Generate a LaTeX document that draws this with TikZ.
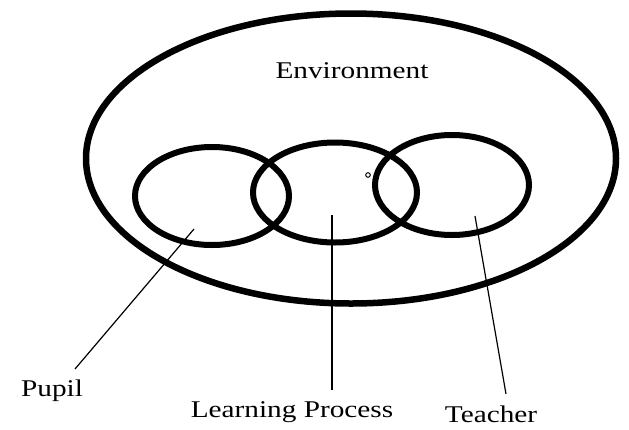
\documentclass[tikz,border=0pt]{standalone}
\usepackage{fontspec}
\usepackage{graphicx}
\setmainfont{Liberation Serif}
\tikzset{
  bigring/.style={line width=6.5pt},
  ring/.style={line width=6pt},
  leader/.style={line width=1.2pt},
  lbl/.style={inner sep=0pt, anchor=base, font=\fontsize{24}{28}\selectfont},
}
\newcommand{\wide}[1]{\scalebox{1.22}[1]{#1}}
\begin{document}
\begin{tikzpicture}[x=1pt,y=-1pt]
\useasboundingbox[fill=white] (0,0) rectangle (629,429);
% environment
\draw[bigring] (351,158.5) ellipse [x radius=265, y radius=145];
\node[lbl] (env) at (352,78) {\wide{Environment}};
% inner rings
\draw[ring] (212,196) ellipse [x radius=77, y radius=49];
\draw[ring] (335,192.5) ellipse [x radius=82, y radius=50];
\draw[ring] (452,185) ellipse [x radius=77, y radius=50];
\draw[line width=1pt] (368,175) circle [radius=2.3];
% leader end points
\coordinate (pA) at (194,229);
\coordinate (pB) at (75,369);
\coordinate (lA) at (332,215);
\coordinate (lB) at (332,390);
\coordinate (tA) at (475,216);
\coordinate (tB) at (506,394);
\draw[leader] (pA) -- (pB);
\draw[leader] (lA) -- (lB);
\draw[leader] (tA) -- (tB);
% labels
\node[lbl] (pupil) at (52,396) {\wide{Pupil}};
\node[lbl] (learn) at (292,417) {\wide{Learning Process}};
\node[lbl] (teach) at (491,422) {\wide{Teacher}};
\end{tikzpicture}
\end{document}
